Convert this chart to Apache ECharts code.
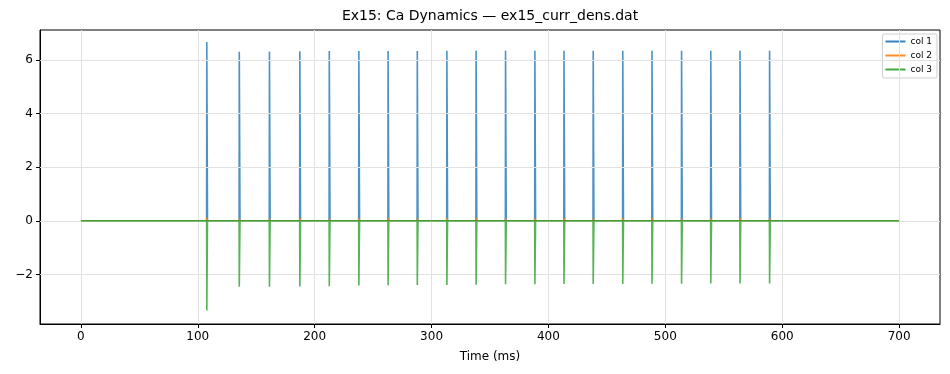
<!DOCTYPE html>
<html><head><meta charset="utf-8">
<script src="https://cdn.jsdelivr.net/npm/echarts@6/dist/echarts.min.js"></script>
<style>html,body{margin:0;padding:0;background:#fff}#c{width:950px;height:374px}</style>
</head><body><div id="c"></div>
<script>
// Spike times (ms)
var spikeTimes = [107.7, 135.5, 161.3, 187.3, 212.5, 237.8, 262.8, 287.8, 313.1, 338.1,
                  363.3, 388.4, 413.3, 438.3, 463.6, 488.6, 513.9, 538.9, 563.9, 589.2];
// col 1 peak values
var col1Peaks = [6.66, 6.30, 6.31, 6.32, 6.33, 6.33, 6.33, 6.33, 6.34, 6.34,
                 6.34, 6.34, 6.34, 6.34, 6.34, 6.34, 6.34, 6.34, 6.34, 6.34];
// col 2 peak values (small)
var col2Peaks = [0.12, 0.10, 0.10, 0.10, 0.10, 0.10, 0.10, 0.10, 0.10, 0.10,
                 0.10, 0.10, 0.10, 0.10, 0.10, 0.10, 0.10, 0.10, 0.10, 0.10];
// col 3 trough values
var col3Troughs = [-3.34, -2.45, -2.45, -2.44, -2.43, -2.41, -2.40, -2.39, -2.39, -2.38,
                   -2.36, -2.36, -2.35, -2.35, -2.35, -2.34, -2.34, -2.33, -2.33, -2.33];
var timeStart = 0, timeEnd = 700;
var xTicks = [0, 100, 200, 300, 400, 500, 600, 700];
var yTicks = [-2, 0, 2, 4, 6];
var seriesNames = ['col 1', 'col 2', 'col 3'];

function buildSeries(vals) {
  var d = [[timeStart, 0]];
  for (var i = 0; i < spikeTimes.length; i++) {
    var t = spikeTimes[i];
    d.push([t - 0.15, 0]);
    d.push([t, vals[i]]);
    d.push([t + 0.4, vals[i] * 0.99]);
    d.push([t + 0.6, 0]);
  }
  d.push([timeEnd, 0]);
  return d;
}

var colors = ['#1f77b4', '#ff7f0e', '#2ca02c'];
var dataSets = [col1Peaks, col2Peaks, col3Troughs];
var series = dataSets.map(function (v, i) {
  return {
    name: seriesNames[i], type: 'line', data: buildSeries(v),
    showSymbol: false, symbol: 'none', animation: false,
    lineStyle: { width: 1.6, color: colors[i], opacity: 0.8 },
    itemStyle: { color: colors[i] },
    z: 3 + i
  };
});
// grid lines
series.push({
  type: 'line', data: [], silent: true, animation: false,
  markLine: {
    silent: true, symbol: 'none', animation: false,
    label: { show: false },
    lineStyle: { color: '#e2e2e2', width: 1, type: 'solid' },
    data: xTicks.map(function (x) { return { xAxis: x }; })
      .concat(yTicks.map(function (y) { return { yAxis: y }; }))
  },
  z: 1
});

var chart = echarts.init(document.getElementById('c'), null, { renderer: 'canvas' });
var font = 'DejaVu Sans';
chart.setOption({
  animation: false,
  title: {
    text: 'Ex15: Ca Dynamics \u2014 ex15_curr_dens.dat',
    left: 490, top: 9, textAlign: 'center', padding: 0,
    textStyle: { fontFamily: font, fontSize: 14, fontWeight: 'normal', color: '#000' }
  },
  legend: {
    data: seriesNames.map(function (n, i) {
      return { name: n, icon: 'rect', itemStyle: { color: colors[i], opacity: 0.9, borderWidth: 0 } };
    }),
    orient: 'vertical', right: 13, top: 34,
    itemWidth: 20, itemHeight: 2, itemGap: 3, itemTextGap: 7,
    padding: [2, 5, 3, 3],
    lineStyle: { width: 0, opacity: 0 },
    backgroundColor: '#fff', borderColor: '#d0d0d0', borderWidth: 1, borderRadius: 2,
    textStyle: { fontFamily: font, fontSize: 9, color: '#000', lineHeight: 11 }
  },
  grid: { left: 40, right: 10, top: 30, bottom: 50, show: true, borderColor: '#000', borderWidth: 1, backgroundColor: 'transparent' },
  xAxis: {
    type: 'value', min: -35, max: 735,
    name: 'Time (ms)', nameLocation: 'middle', nameGap: 27,
    nameTextStyle: { fontFamily: font, fontSize: 12, color: '#000' },
    axisLine: { show: true, onZero: false, lineStyle: { color: '#000', width: 1 } },
    axisTick: { show: true, inside: false, length: 4, lineStyle: { color: '#000' }, customValues: xTicks },
    axisLabel: { fontFamily: font, fontSize: 12, color: '#000', margin: 7, customValues: xTicks },
    splitLine: { show: false }
  },
  yAxis: {
    type: 'value', min: -3.84, max: 7.11,
    axisLine: { show: true, onZero: false, lineStyle: { color: '#000', width: 1 } },
    axisTick: { show: true, inside: false, length: 4, lineStyle: { color: '#000' }, customValues: yTicks },
    axisLabel: { fontFamily: font, fontSize: 12, color: '#000', margin: 7, customValues: yTicks,
      formatter: function (v) { return v < 0 ? '\u2212' + Math.abs(v) : String(v); } },
    splitLine: { show: false }
  },
  series: series
});
</script></body></html>
